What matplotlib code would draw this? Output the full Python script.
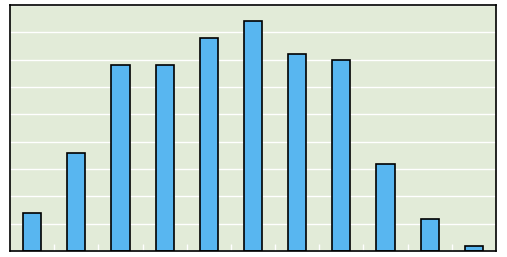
import numpy as np
import matplotlib
matplotlib.use("Agg")
import matplotlib.pyplot as plt

categories = list(range(11))
values = [1.38, 3.57, 6.79, 6.79, 7.78, 8.40, 7.20, 6.98, 3.17, 1.16, 0.17]
y_ticks = list(range(0, 10))

fig = plt.figure(figsize=(5.07, 2.57), dpi=100)
ax = fig.add_axes([10 / 507, 6 / 257, 486 / 507, 246 / 257])
ax.set_facecolor("#e2ebd8")

ax.set_axisbelow(True)
ax.yaxis.grid(True, color="white", linewidth=1.0)

ax.bar(categories, values, width=0.41, color="#58b6f0", edgecolor="black", linewidth=1.2)

ax.set_xlim(-0.5, len(categories) - 0.5)
ax.set_ylim(0, 9)
ax.set_yticks(y_ticks)
ax.set_xticks(np.arange(0.5, len(categories) - 0.5, 1))
ax.tick_params(axis="x", direction="in", length=5, color="white", width=1, labelbottom=False)
ax.tick_params(axis="y", length=0, labelleft=False)

for s in ax.spines.values():
    s.set_color("black")
    s.set_linewidth(1.2)

fig.savefig("out.png", dpi=100)
